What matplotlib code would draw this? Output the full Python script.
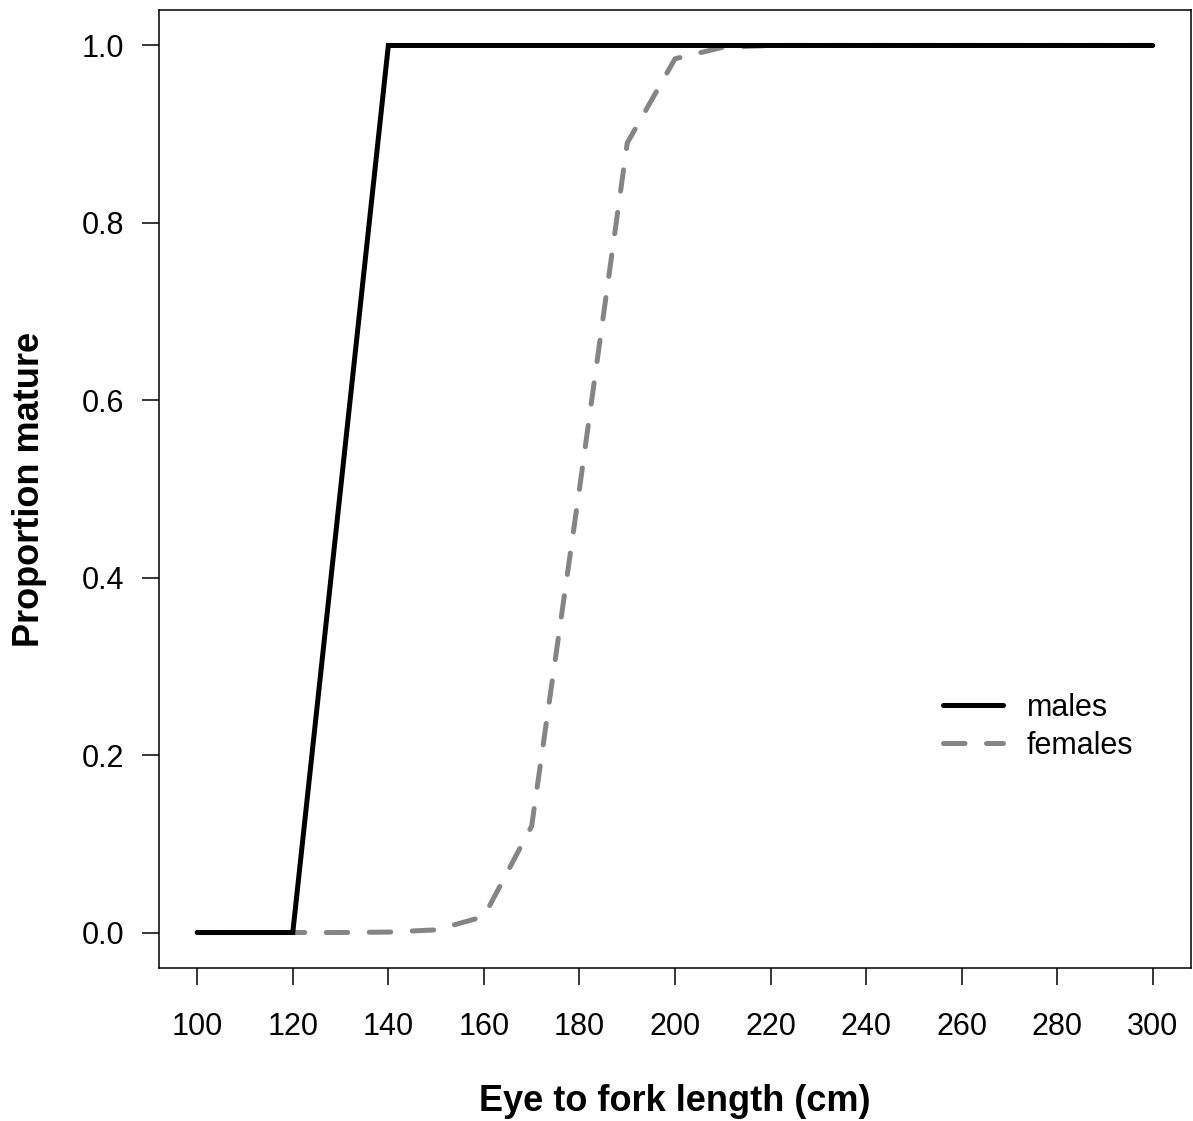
import matplotlib
matplotlib.use("Agg")
import matplotlib.pyplot as plt

length = [100, 110, 120, 130, 140, 150, 160, 170, 180, 190, 200,
          210, 220, 230, 240, 250, 260, 270, 280, 290, 300]
males = [0, 0, 0, 0.5, 1, 1, 1, 1, 1, 1, 1,
         1, 1, 1, 1, 1, 1, 1, 1, 1, 1]
females = [0, 0, 0, 0, 0.0005, 0.003, 0.018, 0.12, 0.5, 0.89, 0.985,
           0.998, 1, 1, 1, 1, 1, 1, 1, 1, 1]
xticks = list(range(100, 301, 20))
yticks = [0.0, 0.2, 0.4, 0.6, 0.8, 1.0]

plt.rcParams["font.family"] = ["Liberation Sans", "DejaVu Sans"]

W, H = 1193, 1121
fig = plt.figure(figsize=(W / 100, H / 100), dpi=100)
ax = fig.add_axes([159 / W, 1 - 968 / H, (1191 - 159) / W, (968 - 10) / H])

ax.plot(length, females, color="#858585", lw=3.6, dashes=(4.3, 4.3),
        dash_capstyle="round", solid_capstyle="round", label="females", zorder=2)
ax.plot(length, males, color="black", lw=3.6, solid_capstyle="round",
        solid_joinstyle="miter", label="males", zorder=3)

ax.set_xlim(92, 308)
ax.set_ylim(-0.04, 1.04)
ax.set_xticks(xticks)
ax.set_yticks(yticks)
ax.set_xticklabels([str(v) for v in xticks])
ax.set_yticklabels([f"{v:.1f}" for v in yticks])
ax.tick_params(axis="both", labelsize=22, length=12, width=1.1, direction="out")
ax.tick_params(axis="x", pad=20)
ax.tick_params(axis="y", pad=13)
for s in ax.spines.values():
    s.set_linewidth(1.1)

ax.set_xlabel("Eye to fork length (cm)", fontsize=26, fontweight="bold", labelpad=30)
ax.set_ylabel("Proportion mature", fontsize=26, fontweight="bold", labelpad=25)

h, l = ax.get_legend_handles_labels()
ax.legend(h[::-1], l[::-1], loc="center left", bbox_to_anchor=(943 / W, 1 - 727 / H),
          bbox_transform=fig.transFigure, frameon=False, fontsize=22,
          handlelength=1.95, handletextpad=0.8, labelspacing=0.25,
          borderpad=0, borderaxespad=0)

fig.savefig("out.png", dpi=100)
